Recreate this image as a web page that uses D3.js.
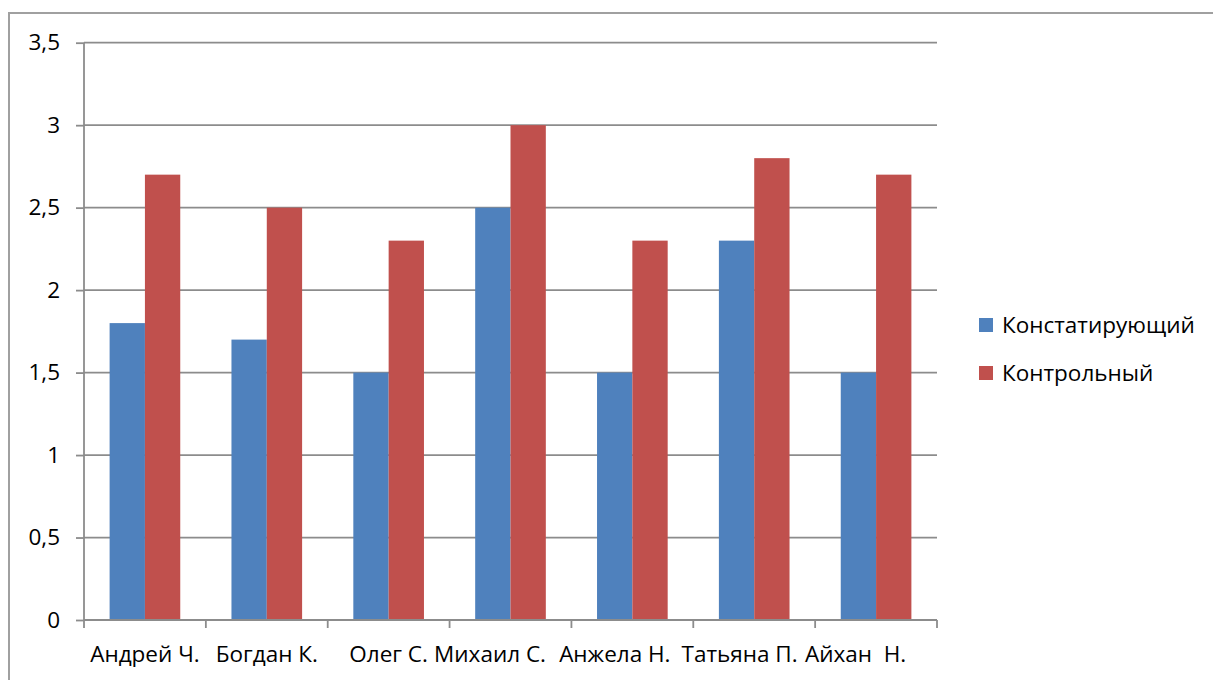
<!DOCTYPE html>
<html>
<head>
<meta charset="utf-8">
<script src="https://cdn.jsdelivr.net/npm/d3@7"></script>
<style>
  html, body { margin: 0; padding: 0; background: #fff; }
  svg { display: block; }
  text { font-family: "Open Sans", Lato, "Liberation Sans", sans-serif; fill: #000; white-space: pre; }
</style>
</head>
<body>
<svg id="chart" width="1213" height="680"></svg>
<script>
// category names as typed in the source sheet (some carry extra spaces)
const categories = ["Андрей Ч.", "Богдан К.", "Олег С.", "Михаил С.       ", "Анжела Н.      ", "Татьяна П.     ", "Айхан  Н.       "];
const seriesNames = ["Констатирующий", "Контрольный"];
const seriesColors = ["#4F81BD", "#C0504D"];
const constValues = [1.8, 1.7, 1.5, 2.5, 1.5, 2.3, 1.5];
const controlValues = [2.7, 2.5, 2.3, 3.0, 2.3, 2.8, 2.7];
const yTicks = [0, 0.5, 1, 1.5, 2, 2.5, 3, 3.5];

const svg = d3.select("#chart");
const fontSize = 22.5;

// outer chart frame (right and bottom edges run past the page)
svg.append("path")
  .attr("d", "M9,700 V13 H1230")
  .attr("fill", "none")
  .attr("stroke", "#a0a0a0")
  .attr("stroke-width", 2);

const plot = { left: 84, right: 937, top: 42.7, bottom: 620 };

const x0 = d3.scaleBand().domain(categories).range([plot.left, plot.right]).padding(0);
const x1 = d3.scaleBand().domain(seriesNames).range([0, x0.bandwidth()]).paddingInner(0).paddingOuter(0.725);
const y = d3.scaleLinear().domain([0, 3.5]).range([plot.bottom, plot.top]);

// horizontal gridlines
svg.append("g")
  .selectAll("line")
  .data(yTicks.filter(d => d > 0))
  .join("line")
  .attr("x1", plot.left).attr("x2", plot.right)
  .attr("y1", d => y(d)).attr("y2", d => y(d))
  .attr("stroke", "#8c8c8c").attr("stroke-width", 1.8);

// bars
const rows = categories.map((c, i) => ({ cat: c, vals: [constValues[i], controlValues[i]] }));
svg.append("g")
  .selectAll("g")
  .data(rows)
  .join("g")
  .attr("transform", d => `translate(${x0(d.cat)},0)`)
  .selectAll("rect")
  .data(d => d.vals.map((v, j) => ({ name: seriesNames[j], v, color: seriesColors[j] })))
  .join("rect")
  .attr("x", d => x1(d.name))
  .attr("width", x1.bandwidth())
  .attr("y", d => y(d.v))
  .attr("height", d => y(0) - y(d.v))
  .attr("fill", d => d.color);

// y axis
const fmt = d => String(d).replace(".", ",");
const yAxis = svg.append("g")
  .attr("transform", `translate(${plot.left},0)`)
  .call(d3.axisLeft(y).tickValues(yTicks).tickFormat(fmt).tickSize(8).tickPadding(16));
yAxis.select(".domain").attr("stroke", "#8c8c8c").attr("stroke-width", 1.8).attr("d", `M0,${plot.top}V${plot.bottom}`);
yAxis.selectAll(".tick line").attr("stroke", "#8c8c8c").attr("stroke-width", 1.8);
yAxis.selectAll(".tick text").style("font-size", fontSize + "px").attr("fill", "#000");

// x axis
const boundaries = categories.map(c => x0(c)).concat([plot.right]);
const xg = svg.append("g");
xg.append("line")
  .attr("x1", plot.left).attr("x2", plot.right)
  .attr("y1", plot.bottom).attr("y2", plot.bottom)
  .attr("stroke", "#8c8c8c").attr("stroke-width", 1.8);
xg.selectAll("line.tk")
  .data(boundaries)
  .join("line")
  .attr("class", "tk")
  .attr("x1", d => d).attr("x2", d => d)
  .attr("y1", plot.bottom).attr("y2", plot.bottom + 8)
  .attr("stroke", "#8c8c8c").attr("stroke-width", 1.8);

// labels are centred on the full name (trailing spaces included), then the
// visible part is drawn from that start point so the text box stays tight
const labels = xg.selectAll("text.lbl")
  .data(categories)
  .join("text")
  .attr("class", "lbl")
  .attr("y", 662)
  .attr("xml:space", "preserve")
  .style("font-size", fontSize + "px")
  .text(d => d);
labels.each(function (d) {
  const full = this.getComputedTextLength();
  const cx = x0(d) + x0.bandwidth() / 2;
  d3.select(this)
    .attr("x", cx - full / 2)
    .attr("text-anchor", "start")
    .text(d.replace(/\s+$/, ""));
});

// legend
const legend = svg.append("g").attr("transform", "translate(979,318)");
const items = legend.selectAll("g")
  .data(seriesNames)
  .join("g")
  .attr("transform", (d, i) => `translate(0,${i * 48})`);
items.append("rect")
  .attr("width", 14).attr("height", 14)
  .attr("fill", (d, i) => seriesColors[i]);
items.append("text")
  .attr("x", 23).attr("y", 7)
  .attr("dy", "0.35em")
  .style("font-size", fontSize + "px")
  .text(d => d);
</script>
</body>
</html>
